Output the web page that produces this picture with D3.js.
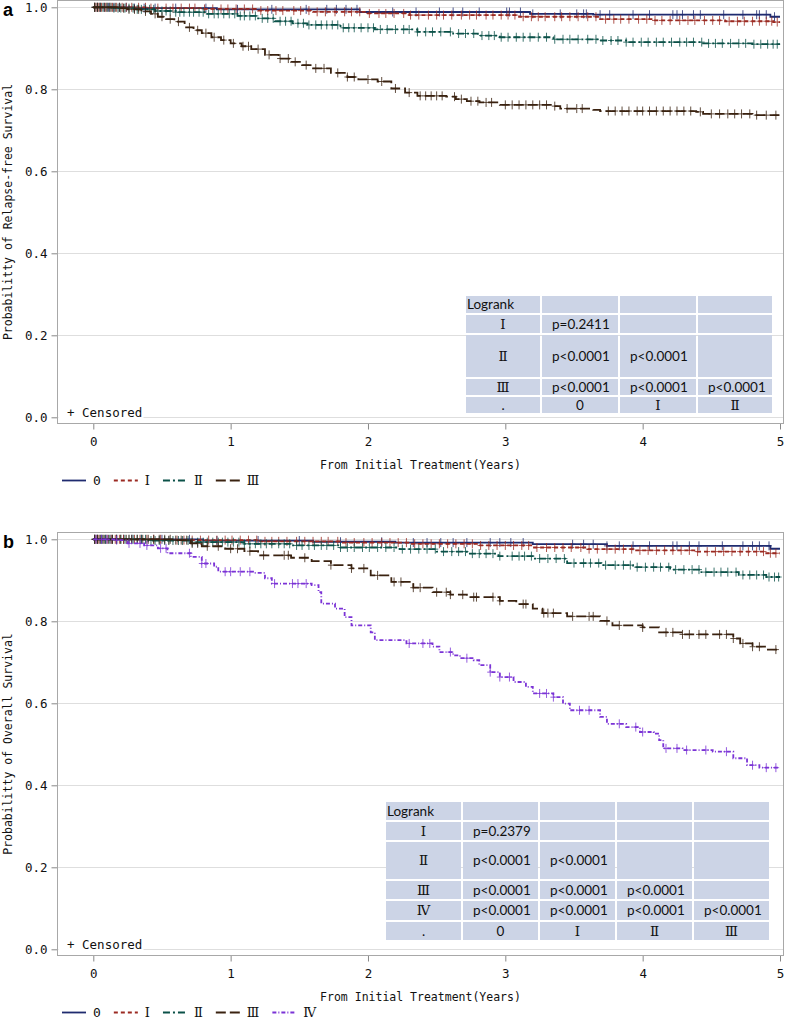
<!DOCTYPE html>
<html>
<head>
<meta charset="utf-8">
<script src="https://cdn.jsdelivr.net/npm/d3@7"></script>
<style>
  body { margin: 0; background: #fff; }
</style>
</head>
<body>
<svg id="chart"></svg>
<script>
// ---- DATA ----
const groupNames = ["0", "Ⅰ", "Ⅱ", "Ⅲ", "Ⅳ"];
const groupColors = ["#1f2b6f", "#9b2a22", "#0b5148", "#3a2210", "#7b33d6"];
const groupDash = [null, "4,3", "7,3,2,3", "10,4", "4,2,1,2"];
const xTicks = [0, 1, 2, 3, 4, 5];
const yTicks = [0, 0.2, 0.4, 0.6, 0.8, 1.0];

// (a) relapse-free survival: step points [years, survival]
const rfs0 = [[0,1],[0.3,0.998],[0.9,0.995],[1.94,0.9885],[3.18,0.984],[3.64,0.982],[4.93,0.977]];
const rfs1 = [[0,1],[0.4,0.998],[0.8,0.996],[1.2,0.992],[1.6,0.989],[2.0,0.985],[2.3,0.981],[3.1,0.977],[3.69,0.971],[4.08,0.968],[4.6,0.966],[4.95,0.964]];
const rfs2 = [[0,1],[0.15,0.998],[0.3,0.995],[0.45,0.991],[0.6,0.988],[0.83,0.984],[1.05,0.979],[1.2,0.973],[1.32,0.966],[1.45,0.961],[1.56,0.957],[1.8,0.95],[2.05,0.946],[2.36,0.94],[2.62,0.936],[2.8,0.931],[2.96,0.927],[3.35,0.922],[3.69,0.919],[3.88,0.915],[4.44,0.912],[4.8,0.91]];
const rfs3 = [[0,1],[0.2,0.998],[0.25,0.995],[0.35,0.99],[0.42,0.984],[0.47,0.977],[0.53,0.971],[0.59,0.965],[0.665,0.951],[0.73,0.944],[0.79,0.937],[0.86,0.927],[0.93,0.92],[1.0,0.912],[1.08,0.905],[1.15,0.898],[1.25,0.884],[1.35,0.875],[1.44,0.867],[1.52,0.859],[1.59,0.851],[1.73,0.84],[1.85,0.83],[1.93,0.824],[2.07,0.819],[2.17,0.802],[2.27,0.792],[2.36,0.784],[2.57,0.782],[2.64,0.776],[2.72,0.771],[2.81,0.768],[2.96,0.762],[3.35,0.759],[3.4,0.753],[3.64,0.75],[3.69,0.747],[4.39,0.745],[4.44,0.74],[4.8,0.737]];

// (a) censoring times (years)
const rfsCens0 = [0.01,0.03,0.05,0.08,0.11,0.15,0.19,0.24,0.3,0.37,0.45,0.6,0.82,1.05,1.3,1.55,1.7,1.77,1.84,1.92,2.18,2.35,2.52,2.62,2.69,2.81,3.01,3.03,3.11,3.2,3.4,3.52,3.57,3.59,3.69,3.76,3.93,4.05,4.22,4.25,4.29,4.37,4.42,4.59,4.73,4.83,4.85,4.9,4.96];
const rfsCens1 = [0.01,0.02,0.04,0.06,0.09,0.12,0.14,0.17,0.21,0.24,0.28,0.33,0.38,0.42,0.47,0.53,0.58,0.64,0.7,0.74,0.81,0.87,0.93,0.98,1.04,1.1,1.16,1.22,1.27,1.33,1.38,1.46,1.51,1.57,1.63,1.69,1.76,1.83,1.88,1.94,2.01,2.08,2.13,2.19,2.26,2.31,2.37,2.44,2.5,2.55,2.61,2.68,2.74,2.79,2.86,2.91,2.97,3.02,3.07,3.13,3.19,3.24,3.29,3.36,3.41,3.47,3.53,3.6,3.66,3.73,3.79,3.84,3.9,3.97,4.03,4.09,4.14,4.2,4.27,4.33,4.38,4.45,4.51,4.56,4.63,4.69,4.74,4.8,4.85,4.9,4.94,4.98];
const rfsCens2 = [0.01,0.03,0.05,0.07,0.1,0.12,0.15,0.18,0.2,0.23,0.26,0.29,0.32,0.35,0.38,0.41,0.44,0.47,0.5,0.53,0.56,0.6,0.63,0.66,0.7,0.73,0.77,0.8,0.84,0.88,0.91,0.95,0.99,1.03,1.07,1.1,1.14,1.18,1.23,1.27,1.31,1.36,1.4,1.44,1.49,1.53,1.57,1.62,1.66,1.7,1.74,1.78,1.82,1.86,1.9,1.95,2.0,2.04,2.09,2.14,2.2,2.26,2.3,2.36,2.42,2.47,2.53,2.6,2.66,2.71,2.77,2.83,2.88,2.92,2.97,3.02,3.08,3.13,3.18,3.24,3.3,3.36,3.42,3.47,3.53,3.6,3.66,3.71,3.77,3.82,3.88,3.93,3.99,4.04,4.1,4.15,4.21,4.27,4.32,4.37,4.43,4.48,4.53,4.58,4.64,4.7,4.75,4.81,4.86,4.91,4.95,4.98];
const rfsCens3 = [0.01,0.03,0.05,0.08,0.1,0.13,0.16,0.19,0.22,0.26,0.3,0.33,0.38,0.45,0.5,0.56,0.62,0.7,0.76,0.82,0.88,0.95,1.02,1.09,1.13,1.2,1.28,1.36,1.42,1.47,1.55,1.62,1.68,1.78,1.85,1.9,2.0,2.1,2.2,2.3,2.38,2.42,2.46,2.5,2.54,2.63,2.68,2.75,2.8,2.86,2.9,3.0,3.05,3.1,3.15,3.2,3.25,3.3,3.36,3.45,3.52,3.56,3.75,3.8,3.85,3.9,3.96,4.0,4.05,4.1,4.15,4.2,4.25,4.3,4.35,4.42,4.5,4.56,4.62,4.67,4.72,4.78,4.83,4.9,4.97];

// (b) overall survival: step points [years, survival]
const os0 = [[0,1],[0.8,0.997],[1.6,0.994],[2.2,0.992],[3.2,0.988],[3.74,0.984],[4.93,0.977]];
const os1 = [[0,1],[0.5,0.998],[1.2,0.995],[1.8,0.992],[2.3,0.989],[2.8,0.985],[3.2,0.98],[3.6,0.976],[3.93,0.973],[4.4,0.97],[4.9,0.966]];
const os2 = [[0,1],[0.4,0.997],[0.71,0.993],[1.1,0.989],[1.44,0.985],[1.8,0.98],[2.23,0.976],[2.5,0.97],[2.72,0.965],[2.95,0.959],[3.2,0.953],[3.45,0.942],[3.7,0.937],[3.93,0.932],[4.2,0.926],[4.42,0.92],[4.7,0.913],[4.9,0.908]];
const os3 = [[0,1],[0.59,0.998],[0.71,0.99],[0.79,0.983],[0.96,0.977],[1.1,0.971],[1.2,0.961],[1.44,0.955],[1.59,0.947],[1.73,0.937],[1.88,0.929],[2.02,0.912],[2.17,0.896],[2.33,0.882],[2.47,0.871],[2.6,0.865],[2.72,0.859],[2.96,0.85],[3.08,0.842],[3.2,0.831],[3.27,0.82],[3.45,0.812],[3.69,0.801],[3.78,0.79],[4.0,0.785],[4.12,0.773],[4.29,0.768],[4.66,0.758],[4.71,0.746],[4.8,0.738],[4.9,0.731]];
const os4 = [[0,1],[0.17,0.998],[0.25,0.99],[0.37,0.985],[0.47,0.978],[0.54,0.966],[0.71,0.957],[0.79,0.941],[0.88,0.933],[0.91,0.921],[1.17,0.918],[1.25,0.905],[1.3,0.892],[1.59,0.888],[1.64,0.871],[1.66,0.843],[1.76,0.831],[1.83,0.81],[1.88,0.79],[2.02,0.773],[2.05,0.754],[2.28,0.746],[2.47,0.738],[2.52,0.725],[2.62,0.717],[2.67,0.71],[2.77,0.705],[2.81,0.693],[2.89,0.676],[2.96,0.664],[3.06,0.652],[3.15,0.64],[3.2,0.624],[3.35,0.615],[3.42,0.599],[3.47,0.583],[3.69,0.567],[3.74,0.55],[3.88,0.542],[3.98,0.53],[4.08,0.526],[4.12,0.51],[4.15,0.49],[4.29,0.486],[4.51,0.482],[4.66,0.466],[4.76,0.449],[4.85,0.443]];

// (b) censoring times (years)
const osCens0 = [0.01,0.03,0.06,0.09,0.13,0.17,0.22,0.28,0.35,0.5,0.7,0.9,1.2,1.5,1.8,2.1,2.33,2.43,2.53,2.62,2.72,2.89,2.96,3.04,3.13,3.49,3.57,3.64,3.74,3.83,3.93,4.05,4.22,4.25,4.34,4.41,4.58,4.73,4.8,4.85,4.92];
const osCens1 = [0.01,0.02,0.04,0.07,0.1,0.13,0.16,0.19,0.22,0.26,0.3,0.34,0.39,0.44,0.49,0.55,0.61,0.66,0.72,0.78,0.84,0.9,0.96,1.01,1.07,1.13,1.19,1.25,1.3,1.35,1.41,1.48,1.54,1.6,1.66,1.71,1.78,1.84,1.9,1.97,2.03,2.1,2.16,2.22,2.28,2.34,2.4,2.46,2.52,2.58,2.64,2.7,2.76,2.82,2.88,2.94,3.0,3.06,3.12,3.17,3.23,3.3,3.36,3.42,3.48,3.55,3.61,3.67,3.74,3.8,3.86,3.92,3.98,4.04,4.1,4.16,4.22,4.28,4.34,4.4,4.47,4.53,4.59,4.65,4.71,4.77,4.83,4.88,4.93,4.97];
const osCens2 = [0.01,0.03,0.05,0.07,0.09,0.12,0.14,0.17,0.2,0.23,0.26,0.29,0.32,0.35,0.38,0.42,0.45,0.48,0.52,0.55,0.58,0.62,0.65,0.69,0.72,0.76,0.8,0.83,0.87,0.91,0.94,0.98,1.02,1.06,1.1,1.14,1.18,1.22,1.26,1.3,1.35,1.39,1.43,1.48,1.52,1.57,1.61,1.66,1.7,1.75,1.8,1.85,1.9,1.96,2.01,2.07,2.13,2.19,2.25,2.31,2.37,2.43,2.49,2.55,2.61,2.66,2.71,2.76,2.81,2.86,2.91,2.96,3.05,3.1,3.14,3.19,3.25,3.31,3.37,3.43,3.5,3.57,3.62,3.68,3.73,3.8,3.86,3.91,3.96,4.02,4.08,4.13,4.19,4.24,4.3,4.36,4.41,4.46,4.52,4.57,4.62,4.68,4.73,4.78,4.83,4.88,4.92,4.96,4.99];
const osCens3 = [0.01,0.03,0.05,0.08,0.11,0.14,0.17,0.2,0.24,0.28,0.32,0.36,0.4,0.44,0.48,0.52,0.56,0.6,0.64,0.68,0.72,0.76,0.83,0.91,1.0,1.05,1.14,1.24,1.39,1.42,1.54,1.73,1.88,1.97,2.07,2.19,2.24,2.33,2.38,2.5,2.57,2.6,2.69,2.77,2.79,2.91,2.96,3.13,3.15,3.28,3.31,3.35,3.49,3.61,3.64,3.74,3.83,4.0,4.17,4.22,4.29,4.34,4.41,4.46,4.56,4.61,4.66,4.73,4.8,4.85,4.97];
const osCens4 = [0.02,0.06,0.1,0.17,0.26,0.34,0.39,0.49,0.53,0.7,0.79,0.82,0.96,1.0,1.07,1.14,1.32,1.45,1.49,1.55,2.3,2.4,2.45,2.6,2.72,2.89,2.96,3.03,3.25,3.3,3.35,3.54,3.61,3.83,3.95,4.0,4.17,4.25,4.32,4.46,4.61,4.8,4.9,4.97];

// logrank tables
const rfsTableRows = ["Ⅰ", "Ⅱ", "Ⅲ"];
const rfsTableP = [["p=0.2411", "", ""], ["p<0.0001", "p<0.0001", ""], ["p<0.0001", "p<0.0001", "p<0.0001"]];
const rfsTableCols = [".", "0", "Ⅰ", "Ⅱ"];
const osTableRows = ["Ⅰ", "Ⅱ", "Ⅲ", "Ⅳ"];
const osTableP = [["p=0.2379", "", "", ""], ["p<0.0001", "p<0.0001", "", ""], ["p<0.0001", "p<0.0001", "p<0.0001", ""], ["p<0.0001", "p<0.0001", "p<0.0001", "p<0.0001"]];
const osTableCols = [".", "0", "Ⅰ", "Ⅱ", "Ⅲ"];

// ---- LAYOUT ----
const W = 787, H = 1020;
const monoFont = "'DejaVu Sans Mono', monospace";
const romanFont = "'DejaVu Serif', 'Liberation Serif', serif";
const tableFont = "Lato, 'Open Sans', sans-serif";
const isRoman = s => /[\u2160-\u216F]/.test(s);

const svg = d3.select("#chart").attr("width", W).attr("height", H);
svg.append("rect").attr("width", W).attr("height", H).attr("fill", "#fff");

const panels = [
  {
    label: "a", top: 0, ytitle: "Probabilitty of Relapse-free Survival",
    curves: [rfs0, rfs1, rfs2, rfs3], cens: [rfsCens0, rfsCens1, rfsCens2, rfsCens3],
    table: { rows: rfsTableRows, p: rfsTableP, cols: rfsTableCols,
      rowEdges: [295, 314, 334, 378, 396, 414], colEdges: [465, 541, 619, 697, 773] }
  },
  {
    label: "b", top: 532, ytitle: "Probabilitty of Overall Survival",
    curves: [os0, os1, os2, os3, os4], cens: [osCens0, osCens1, osCens2, osCens3, osCens4],
    table: { rows: osTableRows, p: osTableP, cols: osTableCols,
      rowEdges: [801, 821, 841, 880, 900, 921, 941], colEdges: [385, 462, 539, 616, 693, 770] }
  }
];

panels.forEach(drawPanel);

function survAt(steps, t) {
  let s = steps[0][1];
  steps.forEach(d => { if (d[0] <= t) s = d[1]; });
  return s;
}

function drawPanel(p) {
  const top = p.top;
  const frame = { x0: 57.5, x1: 783.5, y0: top + 0.5, y1: top + 423.5 };
  const x = d3.scaleLinear().domain([0, 5]).range([93.3, 780]);
  const y = d3.scaleLinear().domain([0, 1]).range([top + 417.3, top + 7.3]);

  const g = svg.append("g");

  // gridlines
  g.append("g").selectAll("line").data(yTicks).enter().append("line")
    .attr("x1", frame.x0).attr("x2", frame.x1)
    .attr("y1", d => Math.round(y(d)) + 0.5).attr("y2", d => Math.round(y(d)) + 0.5)
    .attr("stroke", "#dedede").attr("stroke-width", 1);

  // axes
  const xAxis = g.append("g").attr("transform", `translate(0,${frame.y1})`)
    .call(d3.axisBottom(x).tickValues(xTicks).tickSize(6).tickPadding(8).tickFormat(d3.format("d")));
  const yAxis = g.append("g").attr("transform", `translate(${frame.x0},0)`)
    .call(d3.axisLeft(y).tickValues(yTicks).tickSize(6).tickPadding(4).tickFormat(d3.format(".1f")));
  [xAxis, yAxis].forEach(a => {
    a.select(".domain").remove();
    a.selectAll(".tick line").attr("stroke", "#888");
    a.selectAll(".tick text").attr("font-family", monoFont).attr("font-size", 12.5).attr("fill", "#111");
  });

  // frame
  g.append("rect")
    .attr("x", frame.x0).attr("y", frame.y0)
    .attr("width", frame.x1 - frame.x0).attr("height", frame.y1 - frame.y0)
    .attr("fill", "none").attr("stroke", "#a8a8a8").attr("stroke-width", 1);

  // table
  drawTable(g, p.table);

  // censored legend box
  g.append("rect").attr("x", frame.x0 + 1).attr("y", top + 403).attr("width", 85).attr("height", 20).attr("fill", "#fff");
  g.append("text").attr("x", 67).attr("y", top + 417)
    .attr("font-family", monoFont).attr("font-size", 12.5).attr("fill", "#111")
    .attr("xml:space", "preserve").text("+ Censored");

  // curves
  const line = d3.line().x(d => x(d[0])).y(d => y(d[1])).curve(d3.curveStepAfter);
  p.curves.forEach((steps, i) => {
    const pts = steps.concat([[5, steps[steps.length - 1][1]]]);
    g.append("path").datum(pts)
      .attr("d", line)
      .attr("fill", "none")
      .attr("stroke", groupColors[i])
      .attr("stroke-width", 1.8)
      .attr("stroke-dasharray", groupDash[i]);

    g.append("g").selectAll("path").data(p.cens[i]).enter().append("path")
      .attr("d", "M-3,0h6M0,-4.5v9")
      .attr("transform", t => `translate(${x(t)},${y(survAt(steps, t))})`)
      .attr("stroke", groupColors[i])
      .attr("stroke-width", 1)
      .attr("stroke-opacity", 0.8)
      .attr("fill", "none");
  });

  // panel label
  g.append("text").attr("x", 3).attr("y", top + 16)
    .attr("font-family", "'Liberation Sans', Arial, sans-serif")
    .attr("font-weight", "bold").attr("font-size", 18).attr("fill", "#000")
    .text(p.label);

  // axis titles
  g.append("text")
    .attr("transform", `translate(12,${(frame.y0 + frame.y1) / 2}) rotate(-90)`)
    .attr("text-anchor", "middle")
    .attr("font-family", monoFont).attr("font-size", 11.5).attr("fill", "#111")
    .text(p.ytitle);
  g.append("text")
    .attr("x", (frame.x0 + frame.x1) / 2).attr("y", top + 469)
    .attr("text-anchor", "middle")
    .attr("font-family", monoFont).attr("font-size", 11.5).attr("fill", "#111")
    .text("From Initial Treatment(Years)");

  // group legend
  let lx = 62;
  const ly = top + 480.5;
  p.curves.forEach((c, i) => {
    g.append("line").attr("x1", lx).attr("x2", lx + 24).attr("y1", ly).attr("y2", ly)
      .attr("stroke", groupColors[i]).attr("stroke-width", 1.8)
      .attr("stroke-dasharray", groupDash[i]);
    const txt = g.append("text").attr("x", lx + 31).attr("y", ly + 4.5)
      .attr("font-family", isRoman(groupNames[i]) ? romanFont : monoFont)
      .attr("font-size", 13).attr("fill", "#111")
      .text(groupNames[i]);
    lx += 31 + txt.node().getComputedTextLength() + 13;
  });
}

function drawTable(g, t) {
  const re = t.rowEdges, ce = t.colEdges;
  const nRows = re.length - 1, nCols = ce.length - 1;
  const cells = [];
  for (let r = 0; r < nRows; r++) {
    for (let c = 0; c < nCols; c++) {
      let text = "", align = "middle";
      if (r === 0) { if (c === 0) { text = "Logrank"; align = "start"; } }
      else if (r === nRows - 1) { text = t.cols[c]; }
      else if (c === 0) { text = t.rows[r - 1]; }
      else { text = t.p[r - 1][c - 1]; align = "start"; }
      cells.push({ r, c, text, align });
    }
  }
  const cg = g.append("g");
  cg.selectAll("rect").data(cells).enter().append("rect")
    .attr("x", d => ce[d.c] + 1).attr("y", d => re[d.r] + 1)
    .attr("width", d => ce[d.c + 1] - ce[d.c] - 2)
    .attr("height", d => re[d.r + 1] - re[d.r] - 2)
    .attr("fill", "#ccd4e6");
  cg.selectAll("text").data(cells.filter(d => d.text)).enter().append("text")
    .attr("x", d => d.align === "start" ? ce[d.c] + (d.c === 0 ? 2 : 11) : (ce[d.c] + ce[d.c + 1]) / 2)
    .attr("y", d => (re[d.r] + re[d.r + 1]) / 2 + 4.5)
    .attr("text-anchor", d => d.align)
    .attr("font-family", d => isRoman(d.text) ? romanFont : tableFont)
    .attr("font-size", 13.5).attr("fill", "#111")
    .text(d => d.text);
}
</script>
</body>
</html>
